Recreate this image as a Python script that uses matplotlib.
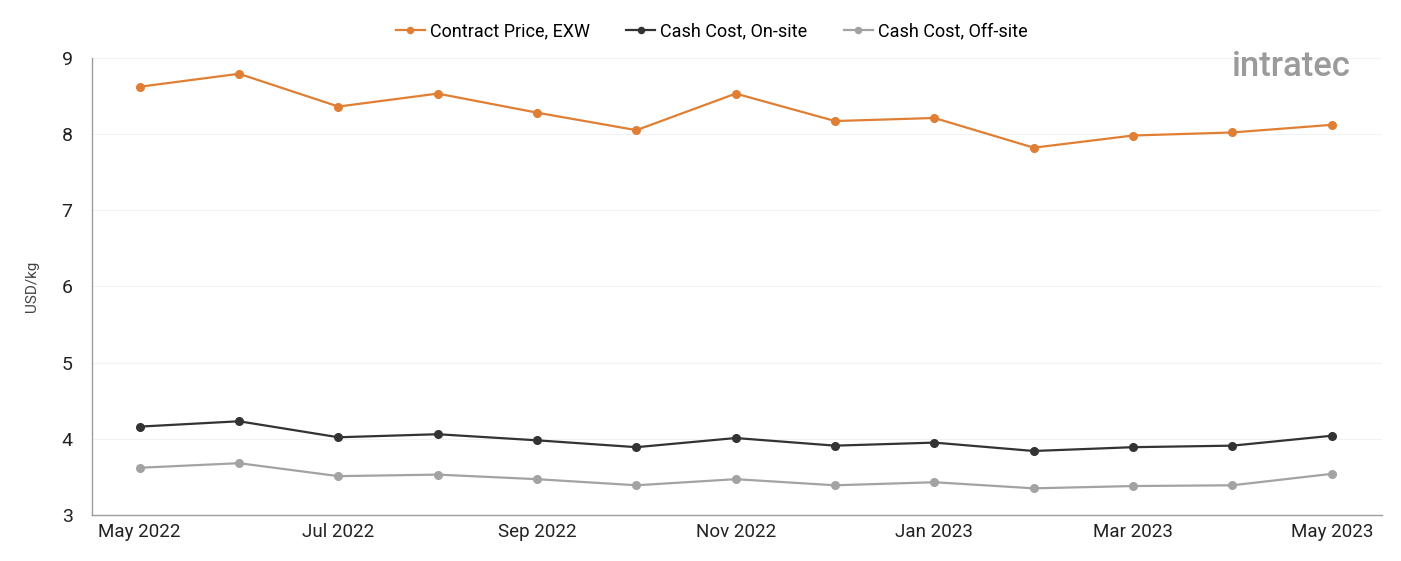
import matplotlib.pyplot as plt

plt.rcParams["font.family"] = ["Roboto", "DejaVu Sans"]

months = ["May 2022", "Jun 2022", "Jul 2022", "Aug 2022", "Sep 2022", "Oct 2022",
          "Nov 2022", "Dec 2022", "Jan 2023", "Feb 2023", "Mar 2023", "Apr 2023", "May 2023"]
contract_price = [8.62, 8.79, 8.36, 8.53, 8.28, 8.05, 8.53, 8.17, 8.21, 7.82, 7.98, 8.02, 8.12]
cash_onsite = [4.16, 4.23, 4.02, 4.06, 3.98, 3.89, 4.01, 3.91, 3.95, 3.84, 3.89, 3.91, 4.04]
cash_offsite = [3.62, 3.68, 3.51, 3.53, 3.47, 3.39, 3.47, 3.39, 3.43, 3.35, 3.38, 3.39, 3.54]

series = [
    ("Contract Price, EXW", contract_price, "#E07F34"),
    ("Cash Cost, On-site", cash_onsite, "#333333"),
    ("Cash Cost, Off-site", cash_offsite, "#A3A3A3"),
]

fig = plt.figure(figsize=(14.01, 5.61), dpi=100)
ax = fig.add_axes([0.0657, 0.082, 0.921, 0.815])

x = list(range(len(months)))
for name, vals, col in series:
    ax.plot(x, vals, color=col, lw=1.6, marker="o", ms=5.5, label=name, zorder=3)

ax.set_xlim(-0.48, 12.51)
ax.set_ylim(3, 9)
ax.set_yticks(range(3, 10))
ax.set_xticks(x[::2])
ax.set_xticklabels(months[::2])
ax.tick_params(axis="both", length=0, colors="#222222")
ax.tick_params(axis="x", pad=6, labelsize=13.5)
ax.tick_params(axis="y", pad=14, labelsize=14)
ax.grid(axis="y", color="#F2F2F2", lw=0.8)
ax.set_axisbelow(True)
for s in ["top", "right"]:
    ax.spines[s].set_visible(False)
for s in ["left", "bottom"]:
    ax.spines[s].set_color("#9E9E9E")
    ax.spines[s].set_linewidth(1)

ax.set_ylabel("USD/kg", fontsize=11, color="#444444")
ax.yaxis.set_label_coords(-0.041, 0.5)

fig.legend(loc="upper center", bbox_to_anchor=(0.508, 0.99), ncol=3, frameon=False,
           fontsize=13, handlelength=1.6, handletextpad=0.3, columnspacing=2.0,
           markerscale=0.8)

# logo
fig.text(0.879, 0.881, "intratec", fontsize=25, color="#9B9B9B",
         fontweight="medium", ha="left", va="center")

fig.savefig("out.png", dpi=100)
